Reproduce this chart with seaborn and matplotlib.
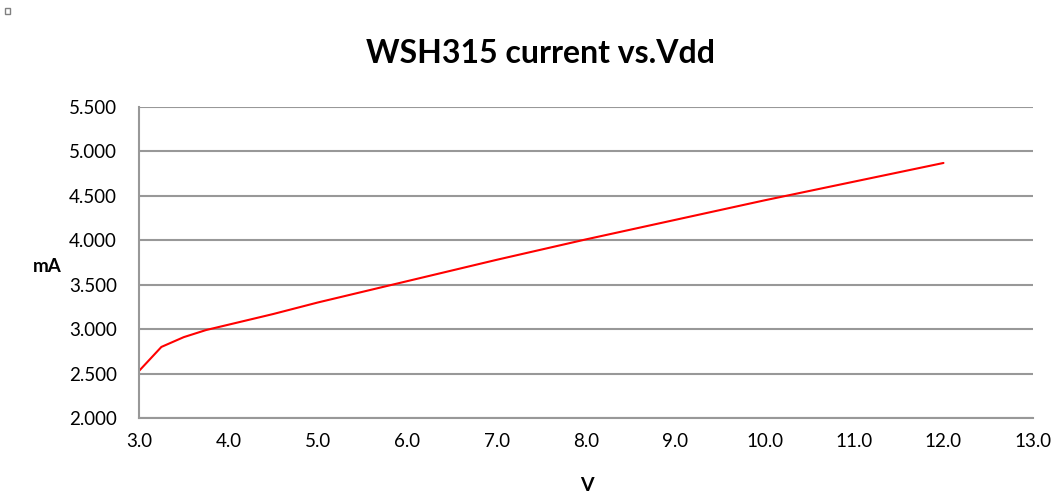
import matplotlib
matplotlib.use("Agg")
import matplotlib.pyplot as plt
import seaborn as sns
import pandas as pd
from matplotlib.patches import Rectangle

# данные
vdd = [3.0, 3.25, 3.5, 3.75, 4.0, 4.5, 5.0, 5.5, 6.0, 7.0, 8.0, 9.0, 10.0, 11.0, 12.0]
current_ma = [2.53, 2.80, 2.91, 2.99, 3.05, 3.17, 3.30, 3.42, 3.54, 3.78, 4.01, 4.23, 4.45, 4.66, 4.87]
x_ticks = [3.0, 4.0, 5.0, 6.0, 7.0, 8.0, 9.0, 10.0, 11.0, 12.0, 13.0]
y_ticks = [2.0, 2.5, 3.0, 3.5, 4.0, 4.5, 5.0, 5.5]

df = pd.DataFrame({'V': vdd, 'mA': current_ma})

sns.set_style('white')
plt.rcParams['font.family'] = ['Lato', 'DejaVu Sans']
plt.rcParams['text.color'] = 'black'

fig = plt.figure(figsize=(10.55, 4.99), dpi=100)
ax = fig.add_axes([0.1318, 0.1623, 0.979 - 0.1318, 0.7856 - 0.1623])

sns.lineplot(data=df, x='V', y='mA', color='#ff0000', linewidth=1.5, ax=ax)

grid_c = '#989898'
ax.set_xlim(3.0, 13.0)
ax.set_ylim(2.0, 5.5)
ax.set_xticks(x_ticks)
ax.set_xticklabels([f'{t:.1f}' for t in x_ticks])
ax.set_yticks(y_ticks)
ax.set_yticklabels([f'{t:.3f}' for t in y_ticks])
ax.yaxis.grid(True, color=grid_c, linewidth=1.5)
ax.set_axisbelow(True)
for s in ['top', 'right']:
    ax.spines[s].set_visible(False)
for s in ['left', 'bottom']:
    ax.spines[s].set_color(grid_c)
    ax.spines[s].set_linewidth(1.5)
ax.tick_params(axis='both', direction='out', length=5, width=1.2, color=grid_c,
               labelsize=13.5, labelcolor='black')
ax.tick_params(axis='y', pad=11)
ax.tick_params(axis='x', pad=6)

ax.set_xlabel('')
ax.set_ylabel('')
fig.text(0.556, 0.01, 'V', fontsize=14, fontweight='bold', ha='center', va='bottom')
fig.text(0.045, 0.465, 'mA', fontsize=13.5, fontweight='bold', ha='center', va='center')
fig.text(0.512, 0.893, 'WSH315 current vs.Vdd', fontsize=23, fontweight='bold',
         ha='center', va='center')

fig.add_artist(Rectangle((0.005, 0.972), 0.0045, 0.011, transform=fig.transFigure,
                         fill=False, edgecolor='#808080', linewidth=1))

fig.savefig('out.png', dpi=100)
plt.close(fig)
